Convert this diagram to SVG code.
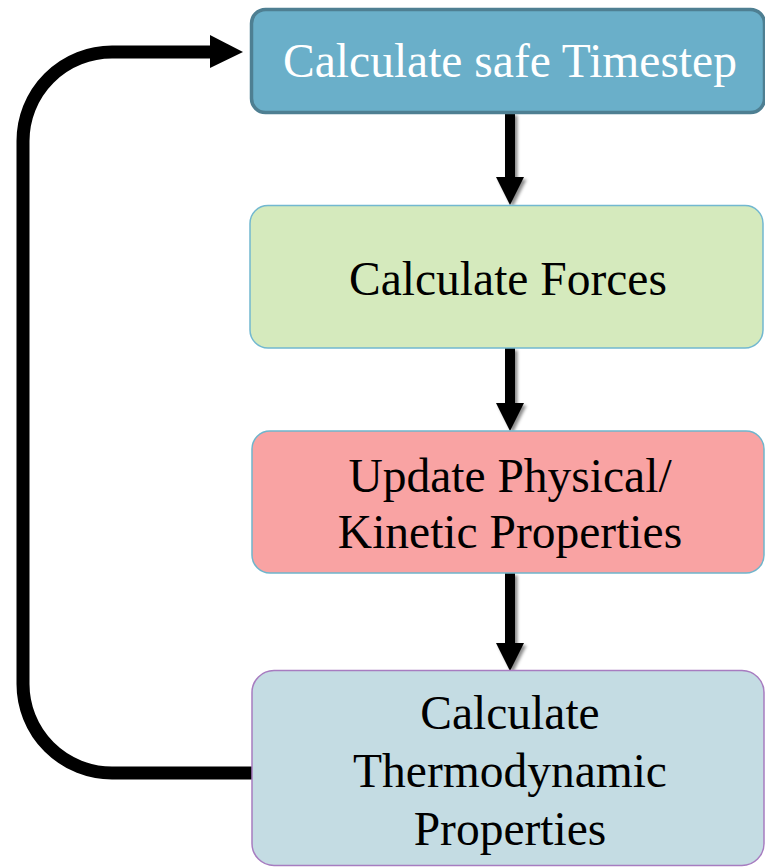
<svg xmlns="http://www.w3.org/2000/svg" width="765" height="867" viewBox="0 0 765 867">
  <defs>
    <filter id="shadow" x="-50%" y="-10%" width="200%" height="130%">
      <feDropShadow dx="2.5" dy="2.5" stdDeviation="1.5" flood-color="#000" flood-opacity="0.45"/>
    </filter>
  </defs>
  <style>
    .label { font-family: "Liberation Serif", "Times New Roman", serif; font-size: 47.5px; text-anchor: middle; fill: #000; }
    .light { fill: #fff; }
    .flow { fill: #000; }
    .loop { fill: none; stroke: #000; stroke-width: 13; }
  </style>
  <rect width="765" height="867" fill="#fff"/>

  <g id="connectors">
    <!-- straight downward arrows between steps -->
    <g filter="url(#shadow)">
      <path class="flow" d="M505 113 H515 V177 H524 L510 205 L496 177 H505 Z"/>
      <path class="flow" d="M505 348 H515 V403 H524 L510 431 L496 403 H505 Z"/>
      <path class="flow" d="M505 573 H515 V643 H524 L510 671 L496 643 H505 Z"/>
    </g>
    <!-- return loop from last step back to the first -->
    <path class="loop" d="M252 773 H112 A89 89 0 0 1 23 684 V141 A89 89 0 0 1 112 52 H212"/>
    <path class="flow" d="M210 35 L243 52 L210 68 Z"/>
  </g>

  <g id="node-timestep">
    <rect x="251.5" y="9.5" width="513" height="103" rx="14" fill="#6aafc9" stroke="#4e7f92" stroke-width="3.5"/>
    <text class="label light" x="510" y="77">Calculate safe Timestep</text>
  </g>

  <g id="node-forces">
    <rect x="250" y="205.5" width="513" height="142.5" rx="18" fill="#d5eabd" stroke="#72b8d0" stroke-width="1.5"/>
    <text class="label" x="508" y="295">Calculate Forces</text>
  </g>

  <g id="node-update">
    <rect x="252" y="431" width="512" height="142" rx="18" fill="#f9a3a3" stroke="#6fb5cc" stroke-width="1.5"/>
    <text class="label" x="510" y="492">Update Physical/</text>
    <text class="label" x="510" y="548">Kinetic Properties</text>
  </g>

  <g id="node-thermo">
    <rect x="252" y="670.5" width="512" height="195" rx="22" fill="#c4dce3" stroke="#a77cc0" stroke-width="1.5"/>
    <text class="label" x="510" y="729">Calculate</text>
    <text class="label" x="510" y="787">Thermodynamic</text>
    <text class="label" x="510" y="845">Properties</text>
  </g>
</svg>
